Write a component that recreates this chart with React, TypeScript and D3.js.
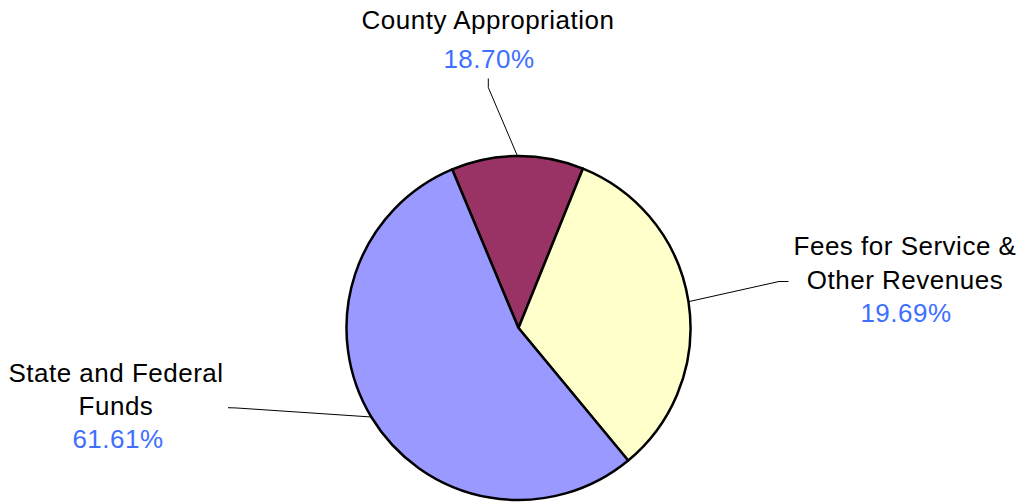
import React from "react";
import * as d3 from "d3";

// Slice sizes as drawn (share of circle, %)
const categories = ["County Appropriation", "Fees for Service & Other Revenues", "State and Federal Funds"];
const sliceValues = [12.42, 32.88, 54.7];
// Printed labels
const labelLines = [["County Appropriation"], ["Fees for Service &", "Other Revenues"], ["State and Federal", "Funds"]];
const percentLabels = ["18.70%", "19.69%", "61.61%"];
const colors = ["#993366", "#FFFFCC", "#9999FF"];

const W = 1021;
const H = 503;
const cx = 518.5;
const cy = 328;
const R = 172;
const startDeg = -22.7;

// label layout: text center x, baselines of lines, baseline of percent, leader elbow and end
const labelLayout = [
  { x: 488, lines: [28.5], pct: 68, elbow: [488.3, 87.5], end: [488.3, 78.5] },
  { x: 905, lines: [255, 288.5], pct: 321.5, elbow: [779, 281.5], end: [788.5, 281.5] },
  { x: 116, lines: [381.5, 415], pct: 447.5, elbow: [237, 408], end: [228, 407.7] },
];

export default function App() {
  const start = (startDeg * Math.PI) / 180;
  const pie = d3
    .pie<number>()
    .sort(null)
    .value((d) => d)
    .startAngle(start)
    .endAngle(start + 2 * Math.PI);
  const arcs = pie(sliceValues);
  const arcGen = d3.arc<d3.PieArcDatum<number>>().innerRadius(0).outerRadius(R);

  return (
    <svg
      width={W}
      height={H}
      viewBox={`0 0 ${W} ${H}`}
      style={{ position: "absolute", left: 0, top: 0, background: "#fff" }}
      fontFamily="'Liberation Sans', Arial, sans-serif"
    >
      <g transform={`translate(${cx},${cy})`}>
        {arcs.map((a, i) => (
          <path
            key={categories[i]}
            d={arcGen(a) || ""}
            fill={colors[i]}
            stroke="#000"
            strokeWidth={2.5}
            strokeLinejoin="round"
          />
        ))}
      </g>
      {arcs.map((a, i) => {
        const mid = (a.startAngle + a.endAngle) / 2;
        const sx = cx + R * Math.sin(mid);
        const sy = cy - R * Math.cos(mid);
        const L = labelLayout[i];
        return (
          <polyline
            key={"l" + i}
            points={`${sx},${sy} ${L.elbow[0]},${L.elbow[1]} ${L.end[0]},${L.end[1]}`}
            fill="none"
            stroke="#000"
            strokeWidth={1}
          />
        );
      })}
      {labelLayout.map((L, i) => (
        <g key={"t" + i} textAnchor="middle" fontSize={26} letterSpacing={0.5}>
          {labelLines[i].map((t, j) => (
            <text key={j} x={L.x} y={L.lines[j]} fill="#000">
              {t}
            </text>
          ))}
          <text x={L.x + (i === 2 ? 2 : 1)} y={L.pct} fill="#3E6FFF">
            {percentLabels[i]}
          </text>
        </g>
      ))}
    </svg>
  );
}
